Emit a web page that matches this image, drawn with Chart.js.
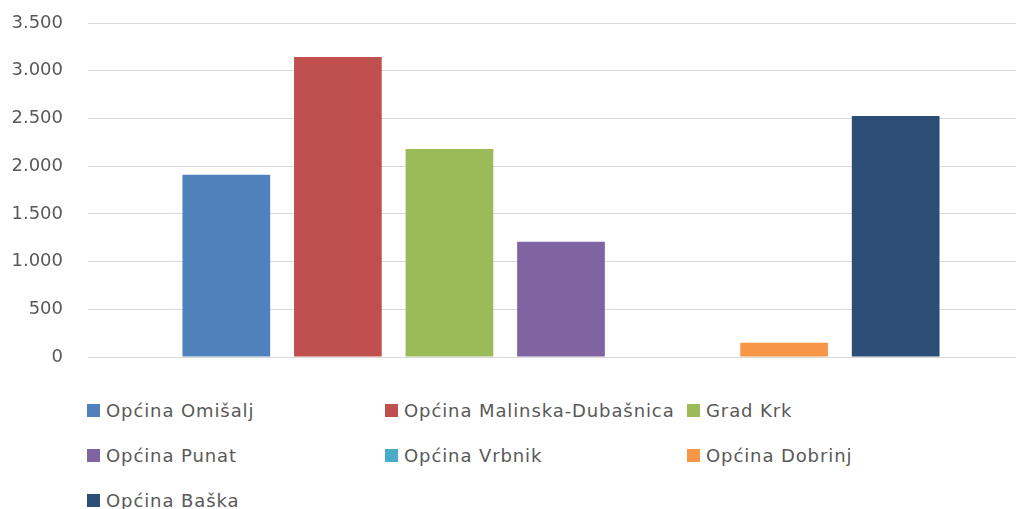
<!DOCTYPE html>
<html>
<head>
<meta charset="utf-8">
<script src="https://cdn.jsdelivr.net/npm/chart.js@4/dist/chart.umd.min.js"></script>
<style>
  html, body { margin: 0; padding: 0; background: #fff; overflow: hidden; width: 1016px; height: 509px; }
  #wrap { position: relative; width: 1016px; height: 509px; overflow: hidden; }
  #chart { position: absolute; left: 0; top: 0; }
  #legend {
    position: absolute; left: 87px; top: 388px;
    display: grid; grid-template-columns: 298px 302px auto; grid-auto-rows: 45px;
    font-family: "DejaVu Sans", sans-serif; font-size: 18px; letter-spacing: 0.9px; color: #595959;
  }
  .item { display: flex; align-items: center; white-space: nowrap; }
  .box { width: 13px; height: 13px; margin-right: 6px; flex: none; }
</style>
</head>
<body>
<div id="wrap">
  <canvas id="chart" width="1034" height="380"></canvas>
  <div id="legend"></div>
</div>
<script>
// Podaci s grafikona
const categories = [''];
const seriesNames = [
  'Općina Omišalj',
  'Općina Malinska-Dubašnica',
  'Grad Krk',
  'Općina Punat',
  'Općina Vrbnik',
  'Općina Dobrinj',
  'Općina Baška'
];
const seriesValues = [1910, 3145, 2180, 1208, 0, 150, 2525];
const seriesColors = ['#4F81BD', '#C0504D', '#9BBB59', '#8064A2', '#4BACC6', '#F79646', '#2C4D75'];
const yTicks = [0, 500, 1000, 1500, 2000, 2500, 3000, 3500];

// Format s točkom kao separatorom tisućica
function formatNum(v) {
  return String(v).replace(/\B(?=(\d{3})+(?!\d))/g, '.');
}

const datasets = seriesNames.map((name, i) => ({
  label: name,
  data: [seriesValues[i]],
  backgroundColor: seriesColors[i],
  borderWidth: 0
}));

const ctx = document.getElementById('chart').getContext('2d');
const chart = new Chart(ctx, {
  type: 'bar',
  data: { labels: categories, datasets: datasets },
  options: {
    responsive: false,
    animation: false,
    categoryPercentage: 0.8255,
    barPercentage: 0.786,
    layout: { padding: { top: 23, bottom: 23, left: 0, right: 0 } },
    plugins: {
      legend: { display: false },
      tooltip: { enabled: false }
    },
    scales: {
      x: { display: false },
      y: {
        min: yTicks[0],
        max: yTicks[yTicks.length - 1],
        afterFit: (scale) => { scale.width = 88; },
        afterBuildTicks: (scale) => { scale.ticks = yTicks.map(v => ({ value: v })); },
        border: { display: false },
        // nevidljive crtice daju razmak izmedu oznaka i mreze
        grid: { color: '#d9d9d9', lineWidth: 1, drawTicks: true, tickLength: 25, tickColor: 'rgba(0,0,0,0)' },
        ticks: {
          padding: 0,
          color: '#595959',
          font: { family: 'DejaVu Sans', size: 18 },
          callback: (v) => formatNum(v)
        }
      }
    }
  }
});

// Legenda u HTML-u, iz datasetova
const legendEl = document.getElementById('legend');
chart.data.datasets.forEach(ds => {
  const item = document.createElement('div');
  item.className = 'item';
  const box = document.createElement('span');
  box.className = 'box';
  box.style.background = ds.backgroundColor;
  const txt = document.createElement('span');
  txt.textContent = ds.label;
  item.appendChild(box);
  item.appendChild(txt);
  legendEl.appendChild(item);
});
</script>
</body>
</html>
